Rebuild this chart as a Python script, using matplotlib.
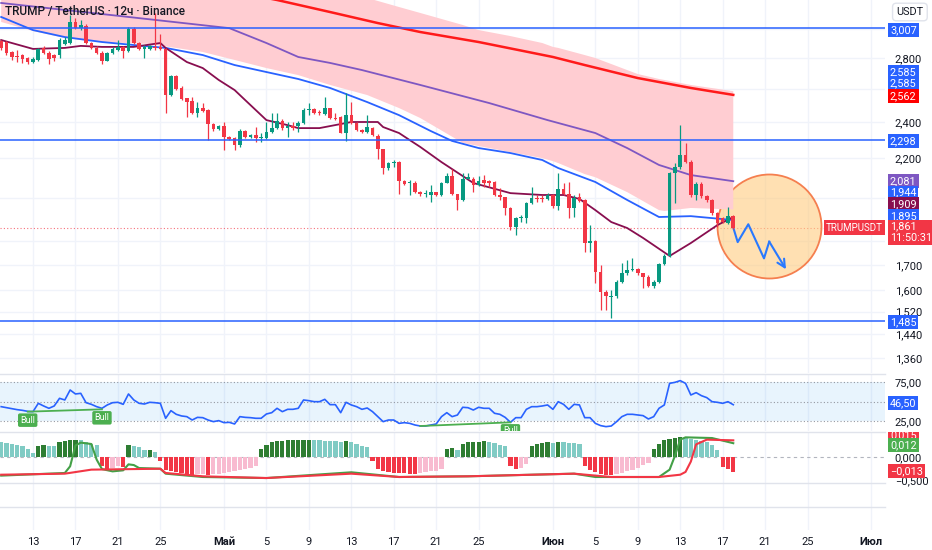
import numpy as np
import pandas as pd
import matplotlib
matplotlib.use("Agg")
import matplotlib.pyplot as plt
import matplotlib.dates as mdates
from matplotlib.colors import to_rgba
from matplotlib.lines import Line2D
from matplotlib.ticker import NullLocator

plt.rcParams["font.family"] = ["Roboto", "DejaVu Sans"]

# 12h candles, first bar 10 Apr 2025 00:00
opens = [2917, 2910, 2843, 2814, 2820, 2798, 2776, 2787, 2867, 2836,
         2820, 2820, 2896, 2903, 3055, 3007, 3024, 2901, 2871, 2836,
         2783, 2831, 2855, 2876, 2845, 3000, 2901, 2862, 2862, 2878,
         2874, 2860, 2561, 2681, 2603, 2542, 2524, 2450, 2480, 2470,
         2388, 2359, 2377, 2317, 2308, 2270, 2350, 2317, 2326, 2308,
         2308, 2345, 2367, 2407, 2363, 2377, 2377, 2397, 2470, 2474,
         2460, 2446, 2480, 2425, 2427, 2340, 2440, 2392, 2357, 2345,
         2367, 2320, 2247, 2148, 2174, 2179, 2082, 2070, 2073, 2029,
         2016, 2013, 2026, 2013, 2073, 2107, 2017, 1989, 2094, 2094,
         2062, 2087, 2080, 2078, 2013, 2001, 1950, 1862, 1903, 1903,
         1973, 2000, 1999, 1995, 2013, 1960, 2040, 2017, 1951, 2003,
         1989, 1795, 1800, 1672, 1595, 1575, 1577, 1633, 1667, 1680,
         1683, 1667, 1654, 1617, 1633, 1704, 1738, 2121, 2151, 2216,
         2181, 2013, 2067, 2008, 1989, 1927, 1903, 1880, 1913]
highs = [2924, 2917, 2850, 2855, 2830, 2805, 2805, 2870, 2880, 2845,
         2830, 2935, 2945, 3106, 3080, 3068, 3040, 2910, 2880, 2845,
         2840, 2875, 2924, 2885, 3020, 3015, 2910, 2889, 2890, 3120,
         2970, 2865, 2690, 2690, 2620, 2545, 2551, 2516, 2510, 2475,
         2395, 2385, 2401, 2320, 2315, 2360, 2355, 2332, 2373, 2337,
         2401, 2450, 2450, 2415, 2401, 2401, 2405, 2480, 2510, 2480,
         2470, 2547, 2485, 2450, 2435, 2574, 2520, 2398, 2362, 2440,
         2373, 2330, 2250, 2180, 2190, 2185, 2087, 2087, 2080, 2032,
         2037, 2062, 2030, 2078, 2120, 2142, 2020, 2120, 2120, 2100,
         2105, 2112, 2087, 2082, 2045, 2005, 1955, 1908, 1918, 1980,
         2054, 2013, 2013, 2022, 2017, 2120, 2070, 2077, 2013, 2022,
         1995, 1872, 1805, 1700, 1600, 1601, 1640, 1707, 1721, 1728,
         1690, 1670, 1660, 1640, 1710, 1745, 2130, 2174, 2382, 2280,
         2190, 2075, 2075, 2015, 1995, 1930, 1910, 1957, 1920]
lows = [2855, 2820, 2787, 2776, 2767, 2760, 2765, 2780, 2825, 2760,
        2780, 2800, 2890, 2895, 3000, 2995, 2895, 2860, 2830, 2760,
        2778, 2825, 2850, 2798, 2840, 2895, 2855, 2798, 2855, 2855,
        2855, 2450, 2555, 2595, 2530, 2431, 2445, 2431, 2460, 2298,
        2350, 2354, 2243, 2298, 2243, 2262, 2312, 2312, 2286, 2288,
        2304, 2340, 2360, 2357, 2317, 2355, 2345, 2390, 2440, 2448,
        2440, 2440, 2415, 2411, 2335, 2295, 2388, 2348, 2340, 2340,
        2320, 2193, 2117, 2140, 2155, 2020, 2062, 2013, 2025, 2010,
        2001, 1981, 2008, 2008, 2070, 2012, 1941, 1985, 2090, 2029,
        2058, 2054, 2054, 2008, 1989, 1918, 1850, 1828, 1887, 1880,
        1968, 1981, 1981, 1990, 1950, 1941, 2012, 1903, 1910, 1980,
        1755, 1755, 1628, 1526, 1526, 1495, 1570, 1630, 1660, 1675,
        1660, 1608, 1612, 1610, 1628, 1700, 1734, 1973, 2145, 2175,
        2005, 1990, 2000, 1980, 1920, 1865, 1880, 1875, 1855]
closes = [2869, 2834, 2809, 2805, 2791, 2776, 2791, 2860, 2833, 2791,
          2798, 2924, 2927, 3055, 3007, 3031, 2901, 2867, 2836, 2783,
          2831, 2860, 2878, 2845, 3000, 2901, 2862, 2872, 2883, 2867,
          2862, 2561, 2681, 2600, 2534, 2518, 2450, 2480, 2466, 2388,
          2359, 2377, 2313, 2304, 2271, 2350, 2317, 2326, 2308, 2313,
          2345, 2367, 2407, 2363, 2377, 2363, 2397, 2470, 2474, 2454,
          2450, 2480, 2421, 2418, 2340, 2440, 2392, 2354, 2345, 2373,
          2326, 2247, 2148, 2174, 2180, 2082, 2067, 2078, 2029, 2016,
          2021, 2026, 2013, 2073, 2107, 2017, 1989, 2094, 2104, 2062,
          2084, 2074, 2071, 2013, 2001, 1950, 1862, 1903, 1907, 1973,
          1997, 1994, 1995, 2013, 1960, 2040, 2017, 1951, 1998, 1984,
          1795, 1800, 1672, 1595, 1577, 1580, 1633, 1667, 1680, 1683,
          1667, 1654, 1617, 1633, 1704, 1738, 2121, 2151, 2216, 2181,
          2013, 2067, 2008, 1989, 1927, 1880, 1887, 1913, 1861]

# moving averages / band, read at bar indices
ma_red_idx = [0, 25, 52, 62, 71, 79, 90, 104, 110, 120, 130, 138]
ma_red = [3632, 3445, 3220, 3128, 3046, 2981, 2910, 2807, 2753, 2668, 2605, 2562]
ma_purple_idx = [0, 19, 43, 50, 56, 62, 68, 79, 92, 103, 112, 118, 124, 130, 138]
ma_purple = [3197, 3113, 3009, 2903, 2807, 2767, 2720, 2624, 2512, 2411, 2337,
             2254, 2164, 2112, 2081]
ma_blue_idx = [0, 6, 12, 19, 25, 31, 38, 44, 50, 56, 62, 69, 75, 81, 85, 90, 96,
               102, 105, 112, 118, 124, 130, 138]
ma_blue = [3091, 2995, 2945, 2910, 2889, 2869, 2820, 2753, 2707, 2662, 2605, 2518,
           2440, 2348, 2293, 2254, 2227, 2190, 2148, 2077, 1989, 1909, 1913, 1895]
ma_maroon_idx = [0, 6, 12, 15, 19, 25, 30, 31, 35, 38, 41, 44, 46, 50, 54, 56, 60,
                 66, 71, 72, 75, 77, 79, 83, 89, 96, 102, 106, 109, 112, 115, 118,
                 121, 126, 130, 135, 138]
ma_maroon = [2924, 2862, 2869, 2883, 2876, 2876, 2903, 2869, 2773, 2733, 2656, 2592,
             2530, 2411, 2382, 2365, 2365, 2400, 2400, 2371, 2337, 2298, 2260, 2179,
             2072, 2022, 2013, 2013, 1994, 1941, 1886, 1859, 1815, 1738, 1793, 1872,
             1909]
band_idx = [0, 6, 12, 19, 28, 38, 44, 50, 56, 62, 69, 75, 79, 87, 90, 96, 102, 104,
            105, 110, 112, 118, 120, 124, 125, 130, 138]
band_up = [4137, 4048, 3961, 3867, 3748, 3615, 3537, 3461, 3387, 3314, 3236, 3166,
           3121, 3032, 2995, 2952, 2903, 2876, 2869, 2820, 2800, 2720, 2694, 2662,
           2656, 2624, 2585]
band_lo = [3054, 2988, 2938, 2910, 2896, 2841, 2787, 2733, 2687, 2624, 2561, 2482,
           2423, 2282, 2265, 2232, 2200, 2184, 2174, 2117, 2101, 2027, 1998, 1941,
           1937, 1951, 1944]
levels = [3007, 2298, 1485]
last_price = 1861

# drawn forecast
fc_times = ["2025-06-18 00:00", "2025-06-18 10:00", "2025-06-19 10:00",
            "2025-06-20 21:30", "2025-06-21 09:20", "2025-06-22 23:15"]
fc_prices = [1861, 1797, 1876, 1728, 1799, 1683]
circle_time, circle_price = "2025-06-21 09:50", 1868

rsi = [44, 42.7, 41.5, 40.2, 39.3, 38, 37.6, 48.3, 44.9, 41.9,
       44.9, 54.7, 52.6, 65.4, 60.3, 61.1, 49.1, 47, 44, 41.9,
       46.2, 49.1, 49.6, 47, 60.3, 52.6, 48.3, 47.4, 49.6, 49.1,
       48.3, 29.1, 38.9, 34.2, 32.1, 31.2, 26.9, 30.3, 29.9, 26.9,
       24.8, 26.1, 23.5, 23.9, 21.8, 31.2, 30.3, 29.9, 29.1, 29.1,
       34.6, 36.3, 41.9, 37.6, 40.6, 40.6, 41.9, 52.6, 51.7, 50.4,
       50.4, 53.4, 46.6, 46.6, 36.3, 49.6, 46.2, 44, 40.6, 42.3,
       37.6, 31.2, 24.8, 26.9, 26.9, 22.6, 23.5, 22.6, 20.5, 19.2,
       19.2, 20.5, 21.8, 31.2, 36.3, 31.2, 33.3, 43.2, 42.7, 39.7,
       43.2, 41.9, 41.9, 35.5, 34.2, 30.3, 23.9, 29.9, 29.9, 40.6,
       44, 44, 44.9, 46.2, 40.6, 50.4, 47, 40.6, 47, 46.2,
       29.9, 29.9, 22.6, 19.7, 18.4, 19.2, 24.8, 31.2, 34.2, 34.2,
       33.3, 32.5, 28.2, 31.2, 41.9, 46.2, 73.9, 75.2, 77.4, 73.9,
       59, 62, 58.1, 55.6, 50.4, 49.6, 48.3, 50.4, 46.5]
bull_start_idx, bull_start_val = [5, 79], [37.6, 19.2]
bull_end_idx, bull_end_val = [19, 96], [40.6, 23.9]
bull_label_idx, bull_label_val = [5, 19, 96], [37.6, 40.6, 23.9]

hist = [0.0128, 0.0122, 0.0116, 0.0104, 0.0093, 0.0070, 0.0035, 0.0099, 0.0104, 0.0099,
        0.0093, 0.0128, 0.0136, 0.0145, 0.0151, 0.0145, 0.0128, 0.0116, 0.0107, -0.0081,
        -0.0104, -0.0096, -0.0075, -0.0087, 0.0107, 0.0099, 0.0087, 0.0058, 0.0064, 0.0041,
        -0.0038, -0.0110, -0.0125, -0.0133, -0.0139, -0.0145, -0.0154, -0.0151, -0.0148, -0.0157,
        -0.0148, -0.0145, -0.0139, -0.0133, -0.0125, -0.0110, -0.0104, -0.0096, -0.0081, 0.0073,
        0.0107, 0.0128, 0.0136, 0.0142, 0.0144, 0.0145, 0.0146, 0.0148, 0.0151, 0.0149,
        0.0145, 0.0142, 0.0139, 0.0136, 0.0133, 0.0136, 0.0128, 0.0116, 0.0099, 0.0087,
        -0.0038, -0.0104, -0.0125, -0.0133, -0.0136, -0.0139, -0.0142, -0.0145, -0.0148, -0.0139,
        -0.0133, -0.0125, -0.0119, -0.0104, 0.0073, 0.0075, 0.0064, 0.0116, 0.0128, 0.0131,
        0.0133, 0.0136, 0.0128, 0.0122, 0.0107, 0.0099, -0.0081, -0.0104, -0.0096, -0.0061,
        0.0099, 0.0116, 0.0122, 0.0128, 0.0125, 0.0133, 0.0128, 0.0122, 0.0119, 0.0116,
        -0.0081, -0.0110, -0.0133, -0.0145, -0.0154, -0.0157, -0.0145, -0.0139, -0.0125, -0.0110,
        -0.0096, -0.0073, -0.0052, 0.0073, 0.0116, 0.0151, 0.0160, 0.0165, 0.0171, 0.0165,
        0.0160, 0.0151, 0.0142, 0.0128, 0.0107, 0.0064, -0.0087, -0.0104, -0.0130]
osc_green_idx = [0, 12, 13, 14, 15, 17, 18, 19, 21, 23, 24, 25, 26, 30, 31, 38, 50, 66,
                 75, 88, 108, 112, 124, 126, 127, 128, 129, 134, 138]
osc_green = [-0.0162, -0.0139, -0.0081, 0.0100, 0.0125, 0.0113, -0.0023, -0.0105,
             -0.0125, -0.0116, -0.0064, -0.0070, -0.0096, -0.0102, -0.0145, -0.0174,
             -0.0183, -0.0133, -0.0174, -0.0168, -0.0145, -0.0174, -0.0174, -0.0110,
             0.0010, 0.0151, 0.0171, 0.0165, 0.0120]
osc_red_idx = [0, 12, 17, 30, 31, 38, 50, 66, 75, 88, 108, 115, 124, 128, 129, 130,
               131, 133, 138]
osc_red = [-0.0154, -0.0145, -0.0110, -0.0102, -0.0139, -0.0168, -0.0183, -0.0145,
           -0.0174, -0.0168, -0.0145, -0.0174, -0.0174, -0.0154, -0.0130, -0.0040,
           0.0110, 0.0151, 0.0145]

price_ticks = [3000, 2800, 2600, 2400, 2200, 2000, 1800, 1700, 1600, 1520, 1440, 1360]
hidden_ticks = {3000, 2600, 2000, 1800}  # covered by value tags in the reference
tick_dates = ["2025-04-13", "2025-04-17", "2025-04-21", "2025-04-25", "2025-05-01",
              "2025-05-05", "2025-05-09", "2025-05-13", "2025-05-17", "2025-05-21",
              "2025-05-25", "2025-06-01", "2025-06-05", "2025-06-09", "2025-06-13",
              "2025-06-17", "2025-06-21", "2025-06-25", "2025-07-01"]
tick_labels = ["13", "17", "21", "25", "Май", "5", "9", "13", "17", "21", "25",
               "Июн", "5", "9", "13", "17", "21", "25", "Июл"]
months = {"Май", "Июн", "Июл"}

GREEN, RED = "#089981", "#F23645"
BLUE = "#2962FF"
TXT = "#131722"
GRID = "#F0F3FA"
SEP = "#E0E3EB"

W, H = 932, 550
fig = plt.figure(figsize=(W / 100, H / 100), dpi=100)


def pane(top, bottom, left=0, right=885):
    return fig.add_axes([left / W, 1 - bottom / H, (right - left) / W, (bottom - top) / H])


def price_layer():
    a = pane(0, 373)
    a.set_yscale("log")
    a.set_ylim(*PRICE_LIM)
    a.set_xlim(x0, x1)
    a.axis("off")
    return a


t = mdates.date2num(pd.date_range("2025-04-10 00:00", periods=len(opens), freq="12h"))
ti = lambda idx: t[np.array(idx)]
x0 = mdates.date2num(pd.Timestamp("2025-04-13") - pd.Timedelta(days=3.11))
x1 = mdates.date2num(pd.Timestamp("2025-04-13") + pd.Timedelta(days=80.3))
xt = mdates.date2num(pd.to_datetime(tick_dates))
PRICE_LIM = (1311, 3220)

# price scale + grid (bottom layer)
ax = pane(0, 373)
ax.set_yscale("log")
ax.set_ylim(*PRICE_LIM)
ax_r = pane(374, 431)
ax_m = pane(432, 483)
ax_e = pane(483, 530)
ax_mt = ax_m.twinx()

for a in (ax, ax_r, ax_m, ax_e):
    a.set_xlim(x0, x1)
    a.set_xticks(xt)
    a.grid(axis="x", color=GRID, lw=1)
    a.set_axisbelow(True)
    for s in a.spines.values():
        s.set_visible(False)
    a.tick_params(axis="x", length=0, labelbottom=False)
ax_mt.set_xlim(x0, x1)
for s in ax_mt.spines.values():
    s.set_visible(False)

ax.yaxis.set_minor_locator(NullLocator())
ax.set_yticks(price_ticks)
ax.set_yticklabels(["" if v in hidden_ticks else f"{v:,}" for v in price_ticks])
ax.yaxis.tick_right()
ax.tick_params(axis="y", length=0, pad=7, labelsize=8, labelcolor=TXT)
ax.grid(axis="y", color=GRID, lw=1)
ax.set_ylim(*PRICE_LIM)

# drawings layer: highlighted zone, forecast path, last-price line
axq = price_layer()
cx = mdates.date2num(pd.Timestamp(circle_time))
axq.scatter([cx], [circle_price], s=(104 * 0.72) ** 2, facecolor=to_rgba("#FFCC80", 0.6),
            edgecolor="#F57F4F", linewidth=1.3, zorder=2)
axq.axhline(last_price, color=RED, lw=0.8, ls=(0, (1, 2)), alpha=0.7, zorder=1)
fx = mdates.date2num(pd.to_datetime(fc_times))
axq.plot(fx[:-1], fc_prices[:-1], color="#2979FF", lw=1.5, zorder=3)
axq.annotate("", xy=(fx[-1], fc_prices[-1]), xytext=(fx[-2], fc_prices[-2]),
             arrowprops=dict(arrowstyle="->", color="#2979FF", lw=1.5,
                             mutation_scale=14, shrinkA=0, shrinkB=0), zorder=3)
axq.annotate("TRUMPUSDT", xy=(1, last_price), xycoords=("axes fraction", "data"),
             xytext=(-2, 0), textcoords="offset pixels", ha="right", va="center",
             fontsize=7, color="white", zorder=4,
             bbox=dict(boxstyle="square,pad=0.25", fc=RED, ec="none"))
axq.set_ylim(*PRICE_LIM)
axq.set_xlim(x0, x1)

# price data layer: cloud, averages, levels, candles
axp = price_layer()
axp.fill_between(ti(band_idx), band_lo, band_up, facecolor="#FFCDD2",
                 edgecolor="none", zorder=1)
axp.plot(ti(ma_red_idx), ma_red, color="#FF1A1A", lw=1.8, zorder=3)
axp.plot(ti(ma_purple_idx), ma_purple, color="#7E57C2", lw=1.3, zorder=3)
axp.plot(ti(ma_blue_idx), ma_blue, color=BLUE, lw=1.3, zorder=3)
axp.plot(ti(ma_maroon_idx), ma_maroon, color="#880E4F", lw=1.3, zorder=3)
for lv in levels:
    axp.axhline(lv, color=BLUE, lw=1.3, alpha=0.85, zorder=6)

o, h, l, c = map(np.array, (opens, highs, lows, closes))
h = np.maximum(h, np.maximum(o, c))
l = np.minimum(l, np.minimum(o, c))
col = np.where(c >= o, GREEN, RED)
axp.vlines(t, l, h, colors=col, lw=0.9, zorder=4)
lo_b = np.minimum(o, c)
axp.bar(t, np.maximum(np.abs(c - o), lo_b * 0.0025), bottom=lo_b, width=0.34,
        color=col, lw=0, zorder=5)
axp.set_ylim(*PRICE_LIM)
axp.set_xlim(x0, x1)

# ---- RSI pane ----
RSI_LIM = (12.8, 85.9)
ax_r.set_ylim(*RSI_LIM)
ax_r.axhspan(25, 75, color="#2196F3", alpha=0.1, lw=0)
for v in (75, 50, 25):
    ax_r.axhline(v, color="#9598A1", lw=0.8, ls=(0, (1, 2)))
ax_r.plot(t, rsi, color=BLUE, lw=1.2, zorder=3)
for i0, v0, i1, v1 in zip(bull_start_idx, bull_start_val, bull_end_idx, bull_end_val):
    ax_r.plot([t[i0], t[i1]], [v0, v1], color="#4CAF50", lw=1.3, zorder=3)
for i, v in zip(bull_label_idx, bull_label_val):
    bl = ax_r.annotate("Bull", xy=(t[i], v), xytext=(0, -4), textcoords="offset pixels",
                       ha="center", va="top", fontsize=6.5, color="white", zorder=5,
                       bbox=dict(boxstyle="round,pad=0.25,rounding_size=0.2",
                                 fc="#4CAF50", ec="none"))
    bl.set_clip_box(ax_r.bbox)
ax_r.set_yticks([75, 25])
ax_r.set_yticklabels(["75,00", "25,00"])
ax_r.yaxis.tick_right()
ax_r.tick_params(axis="y", length=0, pad=7, labelsize=8, labelcolor=TXT)

# ---- oscillator pane ----
OSC_LIM = (-0.02262, 0.02175)
ax_m.set_ylim(*OSC_LIM)
ax_m.set_yticks([])
hc = []
for i, v in enumerate(hist):
    prev = hist[i - 1] if i else v
    if v >= 0:
        hc.append("#2E7D32" if v > prev else "#80CBC4")
    else:
        hc.append(RED if v < prev else "#F8BBD0")
ax_m.bar(t, hist, width=0.4, color=hc, lw=0, zorder=2)
ax_m.axhline(0, color="#B2B5BE", lw=0.8, ls=(0, (3, 3)), zorder=1)
ax_m.plot(ti(osc_green_idx), osc_green, color="#43A047", lw=1.5, zorder=3)
ax_m.plot(ti(osc_red_idx), osc_red, color=RED, lw=1.5, zorder=3)
ax_mt.set_ylim(-0.565, 0.5435)
ax_mt.set_yticks([0, -0.5])
ax_mt.set_yticklabels(["0,000", "−0,500"])
ax_mt.tick_params(axis="y", length=0, pad=7, labelsize=8, labelcolor=TXT)

# ---- time axis ----
ax_e.set_yticks([])
ax_e.tick_params(axis="x", labelbottom=True, pad=5, labelsize=8, labelcolor=TXT)
ax_e.set_xticklabels(tick_labels)
for lab in ax_e.get_xticklabels():
    if lab.get_text() in months:
        lab.set_fontweight("bold")

for yy in (373.5, 431.5, 483, 507):
    fig.add_artist(Line2D([0, 885 / W], [1 - yy / H] * 2, color=SEP, lw=1))

# ---- right-scale tags (own axes so they clip at pane edges) ----
lab_p = pane(0, 373, 885, 932)
lab_r = pane(374, 431, 885, 932)
lab_m = pane(432, 483, 885, 932)
lab_p.set_yscale("log")
lab_p.set_ylim(*PRICE_LIM)
lab_r.set_ylim(*RSI_LIM)
lab_m.set_ylim(*OSC_LIM)
for a in (lab_p, lab_r, lab_m):
    a.axis("off")


def tag(a, y, text, fc, dy=0, va="center"):
    ann = a.annotate(text, xy=(0, y), xycoords=("axes fraction", "data"),
                     xytext=(5, dy), textcoords="offset pixels", ha="left", va=va,
                     fontsize=7.8, color="white", annotation_clip=False,
                     linespacing=1.15,
                     bbox=dict(boxstyle="square,pad=0.18", fc=fc, ec="none"))
    ann.set_clip_box(a.bbox)


tag(lab_p, levels[0], "3,007", BLUE, dy=-2)
tag(lab_p, band_up[-1], "2,585", BLUE, dy=19)
tag(lab_p, band_up[-1], "2,585", BLUE, dy=8)
tag(lab_p, ma_red[-1], "2,562", "#FF0000", dy=-1)
tag(lab_p, levels[1], "2,298", BLUE, dy=-1)
tag(lab_p, ma_purple[-1], "2,081", "#7E57C2", dy=0)
tag(lab_p, band_lo[-1], "1,944", BLUE, dy=17)
tag(lab_p, ma_maroon[-1], "1,909", "#880E4F", dy=13)
tag(lab_p, ma_blue[-1], "1,895", BLUE, dy=4)
tag(lab_p, last_price, "1,861\n11:50:31", RED, dy=6, va="top")
tag(lab_p, levels[2], "1,485", BLUE, dy=-1)
tag(lab_r, rsi[-1], f"{rsi[-1]:.2f}".replace(".", ","), BLUE, dy=2)
tag(lab_m, osc_red[-1], "0,015", RED, dy=5)
tag(lab_m, osc_green[-1], "0,012", "#4CAF50", dy=-2)
tag(lab_m, hist[-1], "−0,013", RED, dy=1)

lab_p.annotate("USDT", xy=(0.53, 1 - 12 / 373), xycoords="axes fraction", ha="center",
               va="center", fontsize=7.8, color=TXT,
               bbox=dict(boxstyle="round,pad=0.35", fc="white", ec=SEP))

fig.text(5 / W, 1 - 12 / H, "TRUMP / TetherUS · 12ч · Binance", fontsize=8.5, color=TXT,
         va="center", weight="medium")

fig.savefig("out.png", dpi=100, facecolor="white")
